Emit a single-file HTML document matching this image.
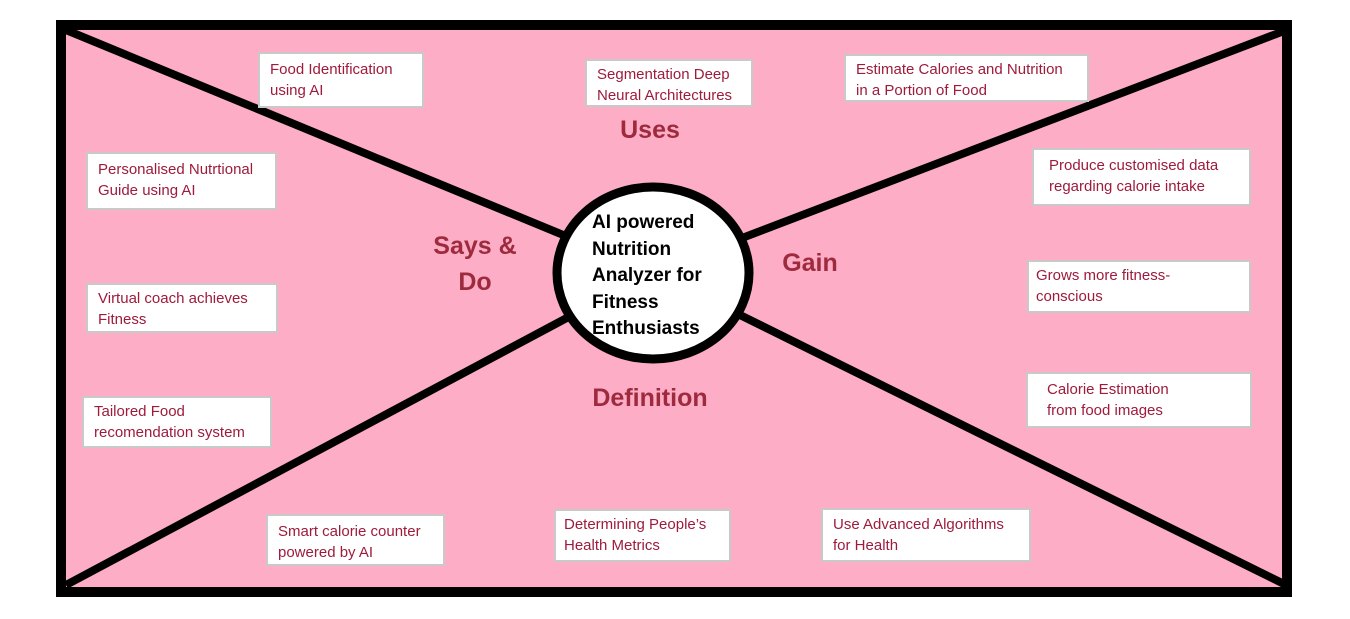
<!DOCTYPE html>
<html><head><meta charset="utf-8"><style>
body{margin:0;width:1350px;height:619px;background:#fff;position:relative;overflow:hidden;font-family:"Liberation Sans",sans-serif}
.b{position:absolute;background:#fff;border:2px solid #c9c9c9;color:#9e1b3c;font-size:15px;line-height:21px;padding:5px 10px;box-sizing:border-box}
.l{position:absolute;color:#9e2a3e;font-weight:bold;font-size:25px;text-align:center;line-height:36px}
</style></head><body>
<svg width="1350" height="619" style="position:absolute;left:0;top:0">
<rect x="61" y="25" width="1226" height="567" fill="#fdadc6" stroke="#000" stroke-width="10"/>
<g stroke="#000" stroke-width="8">
<line x1="66" y1="30" x2="653" y2="272"/>
<line x1="66" y1="585" x2="653" y2="272"/>
<line x1="1284" y1="31" x2="653" y2="272"/>
<line x1="1284" y1="584" x2="653" y2="272"/>
</g>
<ellipse cx="653" cy="273" rx="96" ry="86" fill="#fff" stroke="#000" stroke-width="9"/>
</svg>
<div style="position:absolute;left:592px;top:210px;font-weight:bold;font-size:19px;line-height:26.5px;color:#000">AI powered<br>Nutrition<br>Analyzer for<br>Fitness<br>Enthusiasts</div>
<div class="l" style="left:600px;top:112px;width:100px">Uses</div>
<div class="l" style="left:420px;top:228px;width:110px">Says &amp;<br>Do</div>
<div class="l" style="left:770px;top:245px;width:80px">Gain</div>
<div class="l" style="left:570px;top:380px;width:160px">Definition</div>
<div class="b" style="left:258px;top:52px;width:166px;height:56px">Food Identification<br>using AI</div>
<div class="b" style="left:585px;top:59px;width:168px;height:48px;padding-top:3px">Segmentation Deep<br>Neural Architectures</div>
<div class="b" style="left:844px;top:54px;width:245px;height:48px;padding-top:3px">Estimate Calories and Nutrition<br>in a Portion of Food</div>
<div class="b" style="left:86px;top:152px;width:191px;height:58px">Personalised Nutrtional<br>Guide using AI</div>
<div class="b" style="left:1032px;top:148px;width:219px;height:58px;padding-left:15px">Produce customised data<br>regarding calorie intake</div>
<div class="b" style="left:86px;top:283px;width:192px;height:50px;padding-top:3px">Virtual coach achieves<br>Fitness</div>
<div class="b" style="left:1027px;top:260px;width:224px;height:53px;padding-left:7px;padding-top:3px">Grows more fitness-<br>conscious</div>
<div class="b" style="left:82px;top:396px;width:190px;height:52px;padding-top:3px">Tailored Food<br>recomendation system</div>
<div class="b" style="left:1026px;top:372px;width:226px;height:56px;padding-left:19px">Calorie Estimation<br>from food images</div>
<div class="b" style="left:266px;top:514px;width:179px;height:52px">Smart calorie counter<br>powered by AI</div>
<div class="b" style="left:554px;top:509px;width:177px;height:53px;padding-left:8px;padding-top:3px">Determining People’s<br>Health Metrics</div>
<div class="b" style="left:821px;top:508px;width:210px;height:54px;padding-top:4px">Use Advanced Algorithms<br>for Health</div>
</body></html>
